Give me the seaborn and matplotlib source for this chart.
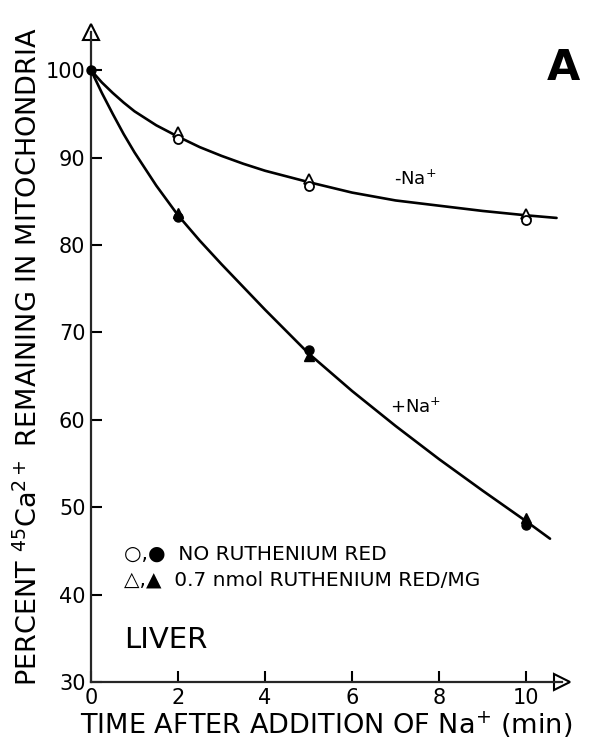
import numpy as np
import pandas as pd
import seaborn as sns
import matplotlib.pyplot as plt

sns.set_style("ticks")
plt.rcParams['font.family'] = ['DejaVu Sans']
plt.rcParams['text.color'] = 'black'
plt.rcParams['axes.labelcolor'] = 'black'

# measured points (time in min, percent remaining)
t_pts = [0, 2, 5, 10]
no_na_circle = [100, 92.1, 86.8, 82.9]      # open circles, -Na+, no ruthenium red
no_na_tri = [100, 92.9, 87.5, 83.6]         # open triangles, -Na+, ruthenium red
na_circle = [100, 83.2, 68.0, 48.0]         # filled circles, +Na+, no ruthenium red
na_tri = [100, 83.7, 67.3, 48.8]            # filled triangles, +Na+, ruthenium red

# hand-drawn curves
curve_minus_t = [0, 0.25, 0.5, 0.75, 1, 1.5, 2, 2.5, 3, 3.5, 4, 5, 6, 7, 8, 9, 10, 10.7]
curve_minus_y = [100, 98.6, 97.4, 96.3, 95.3, 93.7, 92.4, 91.2, 90.2, 89.3, 88.5, 87.2, 86.0, 85.1, 84.5, 83.9, 83.4, 83.1]
curve_plus_t = [0, 0.25, 0.5, 0.75, 1, 1.5, 2, 2.5, 3, 4, 5, 6, 7, 8, 9, 10, 10.55]
curve_plus_y = [100, 97.4, 95.0, 92.7, 90.6, 86.8, 83.4, 80.5, 77.8, 72.6, 67.6, 63.3, 59.3, 55.5, 51.9, 48.4, 46.4]

fig = plt.figure(figsize=(5.89, 7.44), dpi=100)
ax = fig.add_axes([0.1545, 0.0833, 0.800, 0.874])

sns.lineplot(x=curve_minus_t, y=curve_minus_y, ax=ax, color='black', lw=1.9, estimator=None, sort=False)
sns.lineplot(x=curve_plus_t, y=curve_plus_y, ax=ax, color='black', lw=1.9, estimator=None, sort=False)

ms = 6.5
ax.plot(t_pts[1:], no_na_tri[1:], ls='none', marker='^', ms=ms, mfc='white', mec='black', mew=1.3, zorder=4)
ax.plot(t_pts[1:], no_na_circle[1:], ls='none', marker='o', ms=ms, mfc='white', mec='black', mew=1.3, zorder=5)
ax.plot(t_pts[1:], na_tri[1:], ls='none', marker='^', ms=ms, color='black', zorder=5)
ax.plot(t_pts, na_circle, ls='none', marker='o', ms=ms, color='black', zorder=5, clip_on=False)

ax.set_xlim(0, 10.83)
ax.set_ylim(30, 104.4)
ax.set_xticks([0, 2, 4, 6, 8, 10])
ax.set_xticklabels(['0', '2', '4', '6', '8', '10'])
ax.set_yticks([30, 40, 50, 60, 70, 80, 90, 100])
ax.tick_params(axis='both', direction='in', length=8, width=1.5, labelsize=15, colors='black')
ax.tick_params(axis='y', pad=4)
ax.tick_params(axis='x', pad=4)

for side in ['top', 'right']:
    ax.spines[side].set_visible(False)
for side in ['left', 'bottom']:
    ax.spines[side].set_linewidth(1.6)

# open arrowheads at axis ends
ax.plot([1], [0], marker='>', ms=11, mfc='white', mec='black', mew=1.5, transform=ax.transAxes, clip_on=False)
ax.plot([0], [1], marker='^', ms=11, mfc='white', mec='black', mew=1.5, transform=ax.transAxes, clip_on=False)

ax.set_xlabel('TIME AFTER ADDITION OF Na$^{+}$ (min)', fontsize=19.5, labelpad=1)
ax.set_ylabel('PERCENT $^{45}$Ca$^{2+}$ REMAINING IN MITOCHONDRIA', fontsize=19.5, labelpad=2)

ax.text(7.45, 87.6, '-Na$^{+}$', fontsize=13, ha='center', va='center')
ax.text(7.45, 61.5, '+Na$^{+}$', fontsize=13, ha='center', va='center')
ax.text(10.85, 100.3, 'A', fontsize=31, fontweight='bold', ha='center', va='center')

ax.text(0.75, 44.6, '\u25cb,\u25cf  NO RUTHENIUM RED', fontsize=14.5, va='center')
ax.text(0.75, 41.7, '\u25b3,\u25b2  0.7 nmol RUTHENIUM RED/MG', fontsize=14.5, va='center')
ax.text(0.75, 34.8, 'LIVER', fontsize=21, va='center')

fig.savefig('out.png', dpi=100)
